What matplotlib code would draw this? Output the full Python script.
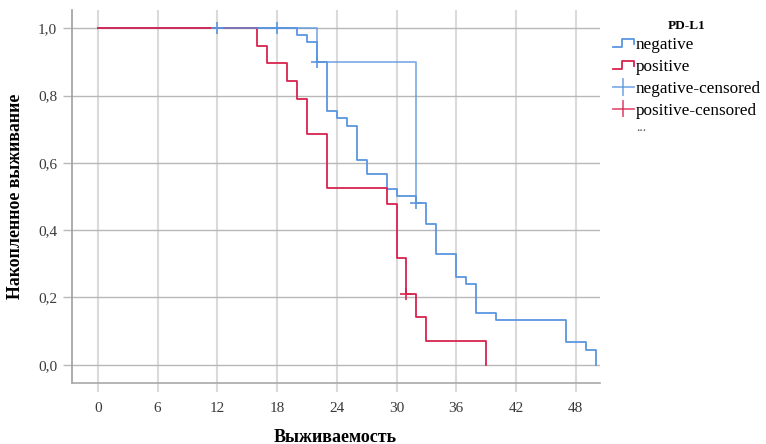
import matplotlib
matplotlib.use("Agg")
import matplotlib.pyplot as plt
from matplotlib.lines import Line2D
from matplotlib.legend_handler import HandlerBase

# ---- data ----
neg_times = [0, 20, 21, 22, 23, 24, 25, 26, 27, 29, 30, 32, 33, 34, 36, 37, 38, 40, 47, 49, 50]
neg_surv = [1.0, 0.981, 0.959, 0.899, 0.754, 0.733, 0.710, 0.607, 0.566, 0.522, 0.502,
            0.480, 0.417, 0.329, 0.262, 0.240, 0.153, 0.132, 0.067, 0.045, 0.0]
pos_times = [0, 16, 17, 19, 20, 21, 23, 29, 30, 31, 32, 33, 39]
pos_surv = [1.0, 0.947, 0.896, 0.843, 0.790, 0.685, 0.526, 0.477, 0.316, 0.211, 0.142, 0.071, 0.0]
neg_cens_times = [12, 18, 22, 32]
neg_cens_surv = [1.0, 1.0, 0.899, 0.480]
pos_cens_times = [31]
pos_cens_surv = [0.211]

x_ticks = [0, 6, 12, 18, 24, 30, 36, 42, 48]
y_ticks = [0.0, 0.2, 0.4, 0.6, 0.8, 1.0]
y_tick_labels = ["0,0", "0,2", "0,4", "0,6", "0,8", "1,0"]
legend_title = "PD-L1"
legend_labels = ["negative", "positive", "negative-censored", "positive-censored"]
x_label = "Выживаемость"
y_label = "Накопленное выживание"

BLUE = "#5a96e0"
RED = "#d8234f"
SERIF = "Liberation Serif"

W, H = 766, 444
fig = plt.figure(figsize=(W / 100, H / 100), dpi=100)
ax = fig.add_axes([71.7 / W, 1 - 383 / H, (600 - 71.7) / W, (383 - 10) / H])

ax.set_xlim(-2.64, 50.45)
ax.set_ylim(-0.054, 1.054)

# grid
for xv in x_ticks:
    ax.axvline(xv, color="#dadada", lw=1.5, zorder=0)
for yv in y_ticks:
    ax.axhline(yv, color="#b8b8b8", lw=1.0, zorder=0.5)

ax.step(neg_times, neg_surv, where="post", color=BLUE, lw=1.3, zorder=2)
ax.step(pos_times, pos_surv, where="post", color=RED, lw=1.3, zorder=3)
ax.step(neg_cens_times, neg_cens_surv, where="post", color=BLUE, lw=1.3, alpha=0.75, zorder=4)
ax.plot(neg_cens_times, neg_cens_surv, ls="none", marker="+", ms=9, mew=1.2, color=BLUE, zorder=5)
ax.plot(pos_cens_times, pos_cens_surv, ls="none", marker="+", ms=9, mew=1.2, color=RED, zorder=5)

ax.set_xticks(x_ticks)
ax.set_xticklabels([str(v) for v in x_ticks], fontfamily=SERIF, fontsize=11, color="#3a3a3a")
ax.set_yticks(y_ticks)
ax.set_yticklabels(y_tick_labels, fontfamily=SERIF, fontsize=11, color="#3a3a3a")
ax.tick_params(axis="x", length=6.5, width=1.5, color="#dadada", pad=7)
ax.tick_params(axis="y", length=6.5, width=1.0, color="#b8b8b8", pad=4)

for s in ["top", "right"]:
    ax.spines[s].set_visible(False)
ax.spines["left"].set_color("#a0a0a0")
ax.spines["bottom"].set_color("#a8a8a8")
ax.spines["left"].set_linewidth(1.2)
ax.spines["bottom"].set_linewidth(1.2)

fig.text(335 / W, 1 - 437 / H, x_label, ha="center", va="center",
         fontfamily=SERIF, fontweight="bold", fontsize=13)
fig.text(16 / W, 1 - 196 / H, y_label, ha="center", va="center", rotation=90,
         fontfamily=SERIF, fontweight="bold", fontsize=12.8)


class StepHandler(HandlerBase):
    def create_artists(self, legend, orig_handle, xdescent, ydescent, width, height, fontsize, trans):
        x0, x1 = -xdescent, -xdescent + width
        y0, y1 = -ydescent, -ydescent + height
        xm = x0 + 0.45 * width
        xs = [x0, xm, xm, x1, x1]
        ys = [y0 + 0.2 * height, y0 + 0.2 * height, y0 + 0.85 * height, y0 + 0.85 * height, y0 + 0.45 * height]
        ln = Line2D(xs, ys, color=orig_handle.get_color(), lw=1.3, transform=trans)
        return [ln]


class CensHandler(HandlerBase):
    def create_artists(self, legend, orig_handle, xdescent, ydescent, width, height, fontsize, trans):
        x0, x1 = -xdescent, -xdescent + width
        y0, y1 = -ydescent, -ydescent + height
        xm = x0 + 0.5 * width
        ym = y0 + 0.5 * height
        c = orig_handle.get_color()
        h = Line2D([x0, x1], [ym, ym], color=c, lw=1.3, alpha=0.75, transform=trans)
        v = Line2D([xm, xm], [y0 - 0.15 * height, y1 + 0.15 * height], color=c, lw=1.3, alpha=0.75, transform=trans)
        return [h, v]


h_neg = Line2D([], [], color=BLUE)
h_pos = Line2D([], [], color=RED)
h_negc = Line2D([], [], color=BLUE, marker="+")
h_posc = Line2D([], [], color=RED, marker="+")

leg = fig.legend([h_neg, h_pos, h_negc, h_posc], legend_labels,
                 handler_map={h_neg: StepHandler(), h_pos: StepHandler(),
                              h_negc: CensHandler(), h_posc: CensHandler()},
                 loc="upper left", bbox_to_anchor=(604 / W, 1 - 11 / H),
                 frameon=False, borderpad=0, handlelength=1.25, handletextpad=0.1,
                 labelspacing=0.34, title=legend_title,
                 prop={"family": SERIF, "size": 12.3},
                 title_fontproperties={"family": SERIF, "size": 9.5, "weight": "bold"})
leg._legend_box.align = "center"
leg._legend_box.sep = 4
fig.text(636 / W, 1 - 134 / H, "...", fontfamily=SERIF, fontsize=10, color="#555555",
         ha="left", va="bottom")

fig.savefig("out.png", dpi=100)
